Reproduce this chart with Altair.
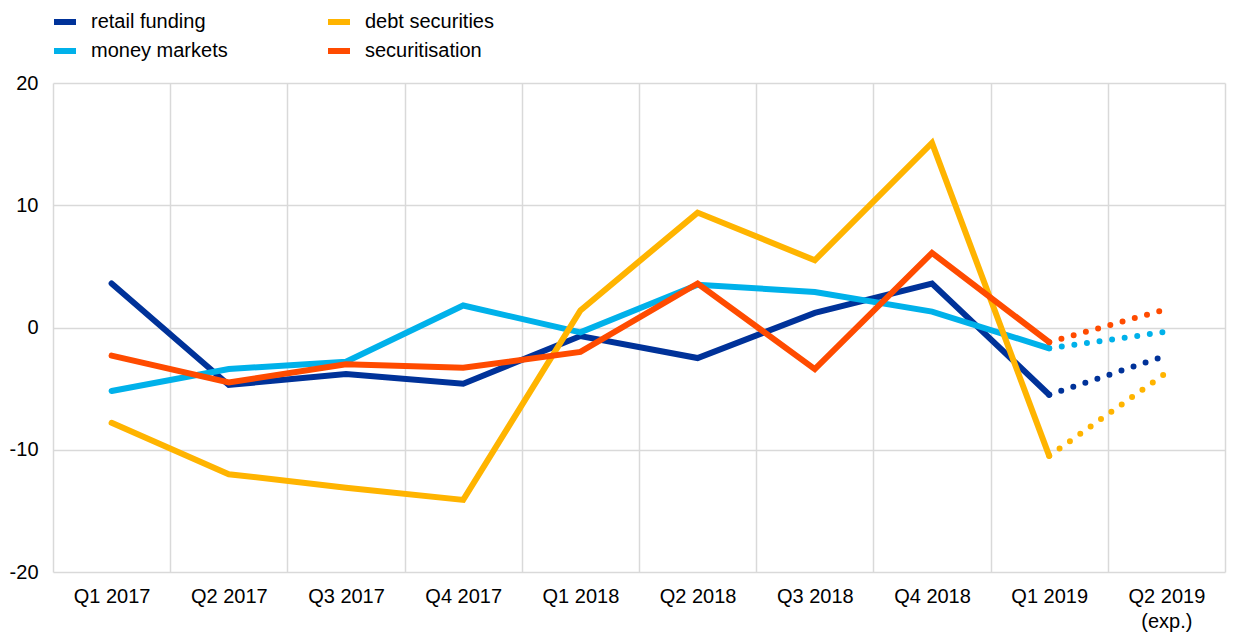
import altair as alt
import pandas as pd

quarters = ["Q1 2017", "Q2 2017", "Q3 2017", "Q4 2017", "Q1 2018",
            "Q2 2018", "Q3 2018", "Q4 2018", "Q1 2019", "Q2 2019 (exp.)"]
series_names = ["retail funding", "money markets", "debt securities", "securitisation"]
series_colors = ["#003299", "#00b1ea", "#ffb400", "#ff4b00"]

retail_funding = [3.6, -4.7, -3.8, -4.6, -0.7, -2.5, 1.2, 3.6, -5.5, -2.3]
money_markets = [-5.2, -3.4, -2.8, 1.8, -0.4, 3.5, 2.9, 1.3, -1.7, -0.35]
debt_securities = [-7.8, -12.0, -13.1, -14.1, 1.4, 9.4, 5.5, 15.1, -10.5, -3.7]
securitisation = [-2.3, -4.5, -3.0, -3.3, -2.0, 3.6, -3.4, 6.1, -1.2, 1.5]

values = {
    "retail funding": retail_funding,
    "money markets": money_markets,
    "debt securities": debt_securities,
    "securitisation": securitisation,
}

rows_actual = []
rows_exp = []
for s in series_names:
    for i, q in enumerate(quarters):
        if i <= 8:
            rows_actual.append({"series": s, "quarter": q, "value": values[s][i]})
        if i >= 8:
            rows_exp.append({"series": s, "quarter": q, "value": values[s][i]})

df_actual = pd.DataFrame(rows_actual)
df_exp = pd.DataFrame(rows_exp)

FONT = "Liberation Sans"

x_enc = alt.X(
    "quarter:N",
    sort=quarters,
    scale=alt.Scale(type="band", domain=quarters, paddingInner=0, paddingOuter=0),
    axis=alt.Axis(
        title=None, tickBand="extent", grid=True, ticks=False, tickSize=0,
        domain=False, labelAngle=0, labelPadding=14, labelFontSize=20,
        labelOverlap=False, labelLineHeight=25,
        labelExpr="datum.value == 'Q2 2019 (exp.)' ? ['Q2 2019', '(exp.)'] : datum.value",
    ),
)
y_enc = alt.Y(
    "value:Q",
    scale=alt.Scale(domain=[-20, 20], nice=False),
    axis=alt.Axis(
        title=None, values=[-20, -10, 0, 10, 20], grid=True, ticks=False,
        tickSize=0, domain=False, labelPadding=15, labelFontSize=20,
        labelExpr="'' + datum.value",
    ),
)
color_enc = alt.Color(
    "series:N",
    scale=alt.Scale(domain=series_names, range=series_colors),
    legend=alt.Legend(
        title=None, orient="none", legendX=-2, legendY=-75, columns=2,
        columnPadding=88, rowPadding=3, padding=0, symbolType="stroke",
        symbolSize=484, symbolStrokeWidth=6, labelFontSize=20,
        labelOffset=12, labelLimit=400,
    ),
)

actual = alt.Chart(df_actual).mark_line(
    strokeWidth=6, strokeCap="round", strokeJoin="miter"
).encode(x=x_enc, y=y_enc, color=color_enc)

expected = alt.Chart(df_exp).mark_line(
    strokeWidth=6, strokeCap="round", strokeDash=[0, 12.7]
).encode(x=x_enc, y=y_enc, color=color_enc)

chart = alt.layer(actual, expected).properties(
    width=1172,
    height=489,
    autosize=alt.AutoSizeParams(type="none"),
    padding={"left": 45, "top": 75, "right": 7, "bottom": 62},
).configure_view(stroke=None).configure_axis(
    gridColor="#d9d9d9", gridWidth=1.5, labelColor="#000000", labelFont=FONT,
).configure_legend(
    labelFont=FONT, labelColor="#000000",
)

chart.save("out.html", embed_options={"renderer": "svg", "actions": False})
